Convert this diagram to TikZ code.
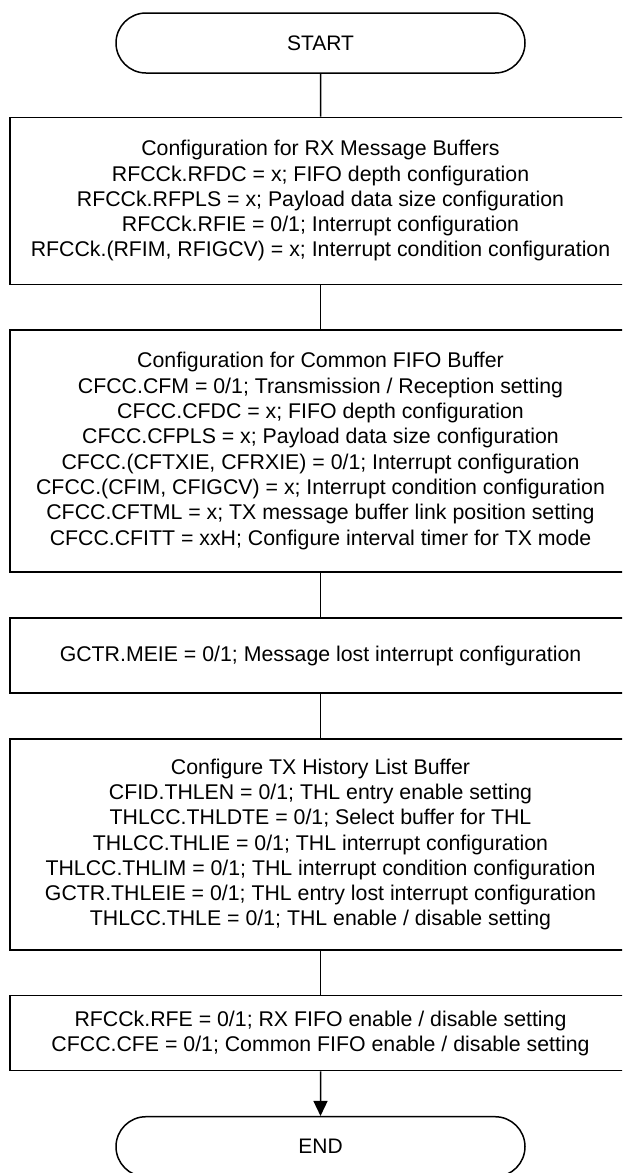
\documentclass[tikz,border=0pt]{standalone}
\usepackage{fontspec}
\setmainfont{Liberation Sans}
\usetikzlibrary{shapes.misc,arrows.meta}
\tikzset{
  term/.style={draw, rounded rectangle, line width=1.5pt, minimum width=409pt, minimum height=60pt, inner sep=0pt, font=\fontsize{21}{25}\selectfont},
  proc/.style={draw, rectangle, line width=1.5pt, minimum width=621pt, inner sep=0pt, align=center, font=\fontsize{21.3}{25.3}\selectfont},
  flow/.style={line width=1.5pt},
}
\begin{document}
\begin{tikzpicture}[x=1pt,y=-1pt]
\useasboundingbox (0,0) rectangle (622,1173);
\clip (0,0) rectangle (622,1173);
\fill[white] (0,0) rectangle (622,1173);
\node[term] (start) at (320.5,43) {START};
\node[proc, minimum height=167pt] (b1) at (320.5,200.8) {Configuration for RX Message Buffers\\
RFCCk.RFDC = x; FIFO depth configuration\\
RFCCk.RFPLS = x; Payload data size configuration\\
RFCCk.RFIE = 0/1; Interrupt configuration\\
RFCCk.(RFIM, RFIGCV) = x; Interrupt condition configuration};
\node[proc, minimum height=242pt] (b2) at (320.5,451) {Configuration for Common FIFO Buffer\\
CFCC.CFM = 0/1; Transmission / Reception setting\\
CFCC.CFDC = x; FIFO depth configuration\\
CFCC.CFPLS = x; Payload data size configuration\\
CFCC.(CFTXIE, CFRXIE) = 0/1; Interrupt configuration\\
CFCC.(CFIM, CFIGCV) = x; Interrupt condition configuration\\
CFCC.CFTML = x; TX message buffer link position setting\\
CFCC.CFITT = xxH; Configure interval timer for TX mode};
\node[proc, minimum height=75pt] (b3) at (320.5,655.7) {GCTR.MEIE = 0/1; Message lost interrupt configuration};
\node[proc, minimum height=211pt] (b4) at (320.5,844.5) {Configure TX History List Buffer\\
CFID.THLEN = 0/1; THL entry enable setting\\
THLCC.THLDTE = 0/1; Select buffer for THL\\
THLCC.THLIE = 0/1; THL interrupt configuration\\
THLCC.THLIM = 0/1; THL interrupt condition configuration\\
GCTR.THLEIE = 0/1; THL entry lost interrupt configuration\\
THLCC.THLE = 0/1; THL enable / disable setting};
\node[proc, minimum height=75pt] (b5) at (320.5,1033.2) {RFCCk.RFE = 0/1; RX FIFO enable / disable setting\\
CFCC.CFE = 0/1; Common FIFO enable / disable setting};
\node[term] (end) at (320.5,1146.7) {END};
\draw[flow] (start) -- (b1);
\draw[flow] (b1) -- (b2);
\draw[flow] (b2) -- (b3);
\draw[flow] (b3) -- (b4);
\draw[flow] (b4) -- (b5);
\draw[flow, -{Triangle[width=14pt,length=15pt]}] (b5) -- (end);
\end{tikzpicture}
\end{document}
